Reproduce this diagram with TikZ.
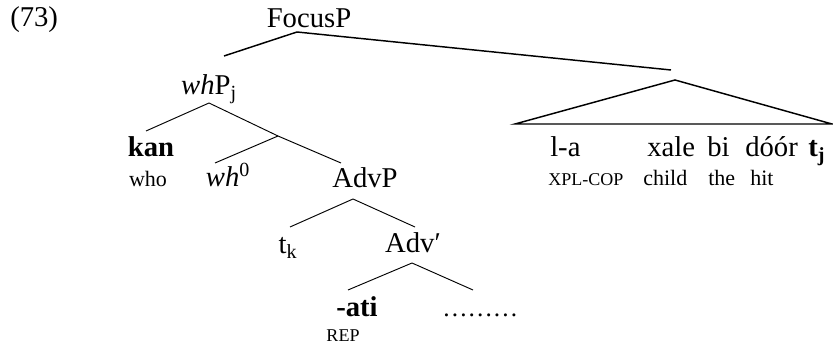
\documentclass[tikz,border=0pt]{standalone}
\usepackage{fontspec}
\setmainfont{Liberation Serif}

\begin{document}
\begin{tikzpicture}[x=0.75pt,y=0.75pt,yscale=-1,xscale=1,
  lbl/.style={anchor=base,inner sep=0pt,font=\fontsize{21.5}{25}\selectfont},
  gloss/.style={anchor=base,inner sep=0pt,font=\fontsize{16.5}{19}\selectfont},
  smcap/.style={anchor=base,inner sep=0pt,font=\fontsize{13.5}{16}\selectfont},
  heavybranch/.style={line width=1.1pt},
  branch/.style={line width=0.7pt}]
\useasboundingbox (0,0) rectangle (833,348);

% Text Node
\node [lbl,anchor=base west] (exnum) at (10,27) {(73)};
% Text Node
\node [lbl] (focus) at (309,28) {FocusP};
% Text Node
\node [lbl] (whp) at (209,95) {\textit{wh}P\textsubscript{j}};
% Text Node
\node [lbl] (kan) at (151,157) {\textbf{kan}};
% Text Node
\node [gloss] (who) at (148,187) {who};
% Text Node
\node [lbl] (whzero) at (228,187) {\textit{wh}\textsuperscript{0}};
% Text Node
\node [lbl] (advp) at (365,188) {AdvP};
% Text Node
\node [lbl] (tk) at (288,254) {t\textsubscript{k}};
% Text Node
\node [lbl] (advbar) at (413,253) {Adv′};
% Text Node
\node [lbl] (ati) at (357,317) {\textbf{-ati}};
% Text Node
\node [smcap] (rep) at (343,342) {REP};
% Text Node
\node [lbl,anchor=base west,font=\fontsize{19}{22}\selectfont] (dots) at (442,317) {………};

% Text Node
\node [lbl,anchor=base west] (la) at (550,157) {l-a};
\node [lbl,anchor=base west] (xale) at (647,157) {xale};
\node [lbl,anchor=base west] (bi) at (707,157) {bi};
\node [lbl,anchor=base west] (door) at (745,157) {dóór};
\node [lbl,anchor=base west] (tj) at (808,157) {\textbf{t\textsubscript{j}}};
% Text Node
\node [smcap,anchor=base west] (xpl) at (548,186) {XPL-COP};
\node [gloss,anchor=base west] (child) at (643,186) {child};
\node [gloss,anchor=base west] (the) at (708,186) {the};
\node [gloss,anchor=base west] (hit) at (750,186) {hit};

% Branch points
\coordinate (focus-a) at (297,32);
\coordinate (whp-e) at (224,56);
\coordinate (vp-e) at (671,70);
\coordinate (tri-a) at (675,80);
\coordinate (tri-l) at (515,124);
\coordinate (tri-r) at (832,124);
\coordinate (whp-a) at (209,103);
\coordinate (kan-e) at (146,131);
\coordinate (whbar) at (278,136);
\coordinate (whzero-e) at (215,163);
\coordinate (advp-e) at (341,163);
\coordinate (advp-a) at (353,199);
\coordinate (tk-e) at (290,227);
\coordinate (advbar-e) at (415,227);
\coordinate (advbar-a) at (412,263);
\coordinate (ati-e) at (348,290);
\coordinate (dots-e) at (473,290);

% Connection
\draw [heavybranch] (focus-a) -- (whp-e);
% Connection
\draw [heavybranch] (focus-a) -- (vp-e);
% Connection
\draw [heavybranch] (tri-a) -- (tri-l) -- (tri-r) -- cycle;
% Connection
\draw [branch] (whp-a) -- (kan-e);
\draw [branch] (whp-a) -- (whbar);
% Connection
\draw [branch] (whbar) -- (whzero-e);
\draw [branch] (whbar) -- (advp-e);
% Connection
\draw [branch] (advp-a) -- (tk-e);
\draw [branch] (advp-a) -- (advbar-e);
% Connection
\draw [branch] (advbar-a) -- (ati-e);
\draw [branch] (advbar-a) -- (dots-e);

\end{tikzpicture}
\end{document}
